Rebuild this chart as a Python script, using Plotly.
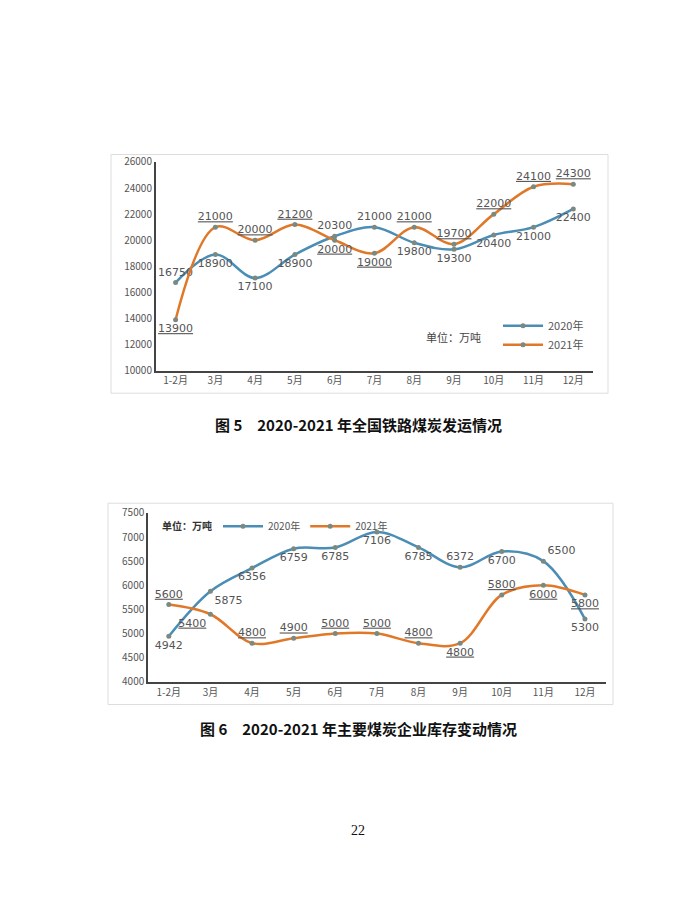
import plotly.graph_objects as go

months = ["1-2月","3月","4月","5月","6月","7月","8月","9月","10月","11月","12月"]
rail_2020 = [16750,18900,17100,18900,20300,21000,19800,19300,20400,21000,22400]
rail_2021 = [13900,21000,20000,21200,20000,19000,21000,19700,22000,24100,24300]
stock_2020 = [4942,5875,6356,6759,6785,7106,6785,6372,6700,6500,5300]
stock_2021 = [5600,5400,4800,4900,5000,5000,4800,4800,5800,6000,5800]

pos_r20 = ["top center","bottom center","bottom center","bottom center","top center","top center","bottom center","bottom center","bottom center","bottom center","bottom center"]
pos_r21 = ["bottom center","top center","top center","top center","bottom center","bottom center","top center","top center","top center","top center","top center"]
pos_s20 = ["bottom center","bottom right","bottom center","bottom center","bottom center","bottom center","bottom center","top center","bottom center","top right","bottom center"]
pos_s21 = ["top center","bottom left","top center","top center","top center","top center","top center","bottom center","top center","bottom center","bottom center"]

BLUE = "#4a8db5"; ORANGE = "#e0782a"; TXT = "#555555"
fig = go.Figure()
def add(y, name, color, pos, xa, ya, leg, show, underline):
    fig.add_trace(go.Scatter(
        x=months, y=y, name=name, mode="lines+markers+text",
        line=dict(color=color, width=2.5, shape="spline", smoothing=1.0),
        marker=dict(size=5, color="#7a8a80"),
        text=[("<u>%d</u>" % v) if underline else str(v) for v in y],
        textposition=pos, textfont=dict(size=11, color=TXT, family="DejaVu Sans"),
        xaxis=xa, yaxis=ya, legend=leg, showlegend=show, cliponaxis=False))

add(rail_2020, "2020年", BLUE, pos_r20, "x", "y", "legend", True, False)
add(rail_2021, "2021年", ORANGE, pos_r21, "x", "y", "legend", True, True)
add(stock_2020, "2020年", BLUE, pos_s20, "x2", "y2", "legend2", True, False)
add(stock_2021, "2021年", ORANGE, pos_s21, "x2", "y2", "legend2", True, True)

ax = dict(showgrid=False, showline=True, linecolor="#444", linewidth=1.5, ticks="",
          tickfont=dict(size=10, color=TXT), zeroline=False)
fig.update_layout(
    width=700, height=900, margin=dict(l=0, r=0, t=0, b=0),
    paper_bgcolor="white", plot_bgcolor="rgba(0,0,0,0)",
    font=dict(family="Noto Sans CJK SC"),
    xaxis=dict(ax, domain=[0.211, 0.836], range=[-0.5, 10.5], anchor="y"),
    yaxis=dict(ax, domain=[0.6, 0.836], range=[10000, 26000], dtick=2000, tickformat="d", anchor="x"),
    xaxis2=dict(ax, domain=[0.2, 0.854], range=[-0.5, 10.5], anchor="y2"),
    yaxis2=dict(ax, domain=[0.248, 0.439], range=[4000, 7500], dtick=500, tickformat="d", anchor="x2"),
    legend=dict(x=0.7, y=0.64, xanchor="left", yanchor="middle", bgcolor="rgba(0,0,0,0)",
                font=dict(size=11, color=TXT), tracegroupgap=0, itemwidth=40),
    legend2=dict(x=0.3, y=0.424, xanchor="left", yanchor="middle", orientation="h",
                 bgcolor="rgba(0,0,0,0)", font=dict(size=10, color=TXT), itemwidth=40),
    shapes=[
        dict(type="rect", xref="paper", yref="paper", x0=103/700, x1=600/700, y0=1-383/900, y1=1-140/900,
             line=dict(color="#dddddd", width=1)),
        dict(type="rect", xref="paper", yref="paper", x0=100/700, x1=605/700, y0=1-700/900, y1=1-495/900,
             line=dict(color="#dddddd", width=1)),
    ],
    annotations=[
        dict(text="单位：万吨", x=445/700, y=1-326/900, xref="paper", yref="paper", showarrow=False,
             font=dict(size=11, color="#444")),
        dict(text="<b>单位：万吨</b>", x=152/700, y=1-518/900, xref="paper", yref="paper", showarrow=False,
             xanchor="left", font=dict(size=10, color="#333", family="Noto Sans CJK SC")),
        dict(text="<b>图 5　2020-2021 年全国铁路煤炭发运情况</b>", x=0.5, y=1-415/900, xref="paper", yref="paper",
             showarrow=False, font=dict(size=15, color="#111", family="Noto Sans CJK SC")),
        dict(text="<b>图 6　2020-2021 年主要煤炭企业库存变动情况</b>", x=0.5, y=1-737/900, xref="paper", yref="paper",
             showarrow=False, font=dict(size=15, color="#111", family="Noto Sans CJK SC")),
        dict(text="22", x=0.5, y=1-838/900, xref="paper", yref="paper", showarrow=False,
             font=dict(size=14, color="#111", family="Liberation Serif")),
    ],
)
fig.write_html("out.html")
